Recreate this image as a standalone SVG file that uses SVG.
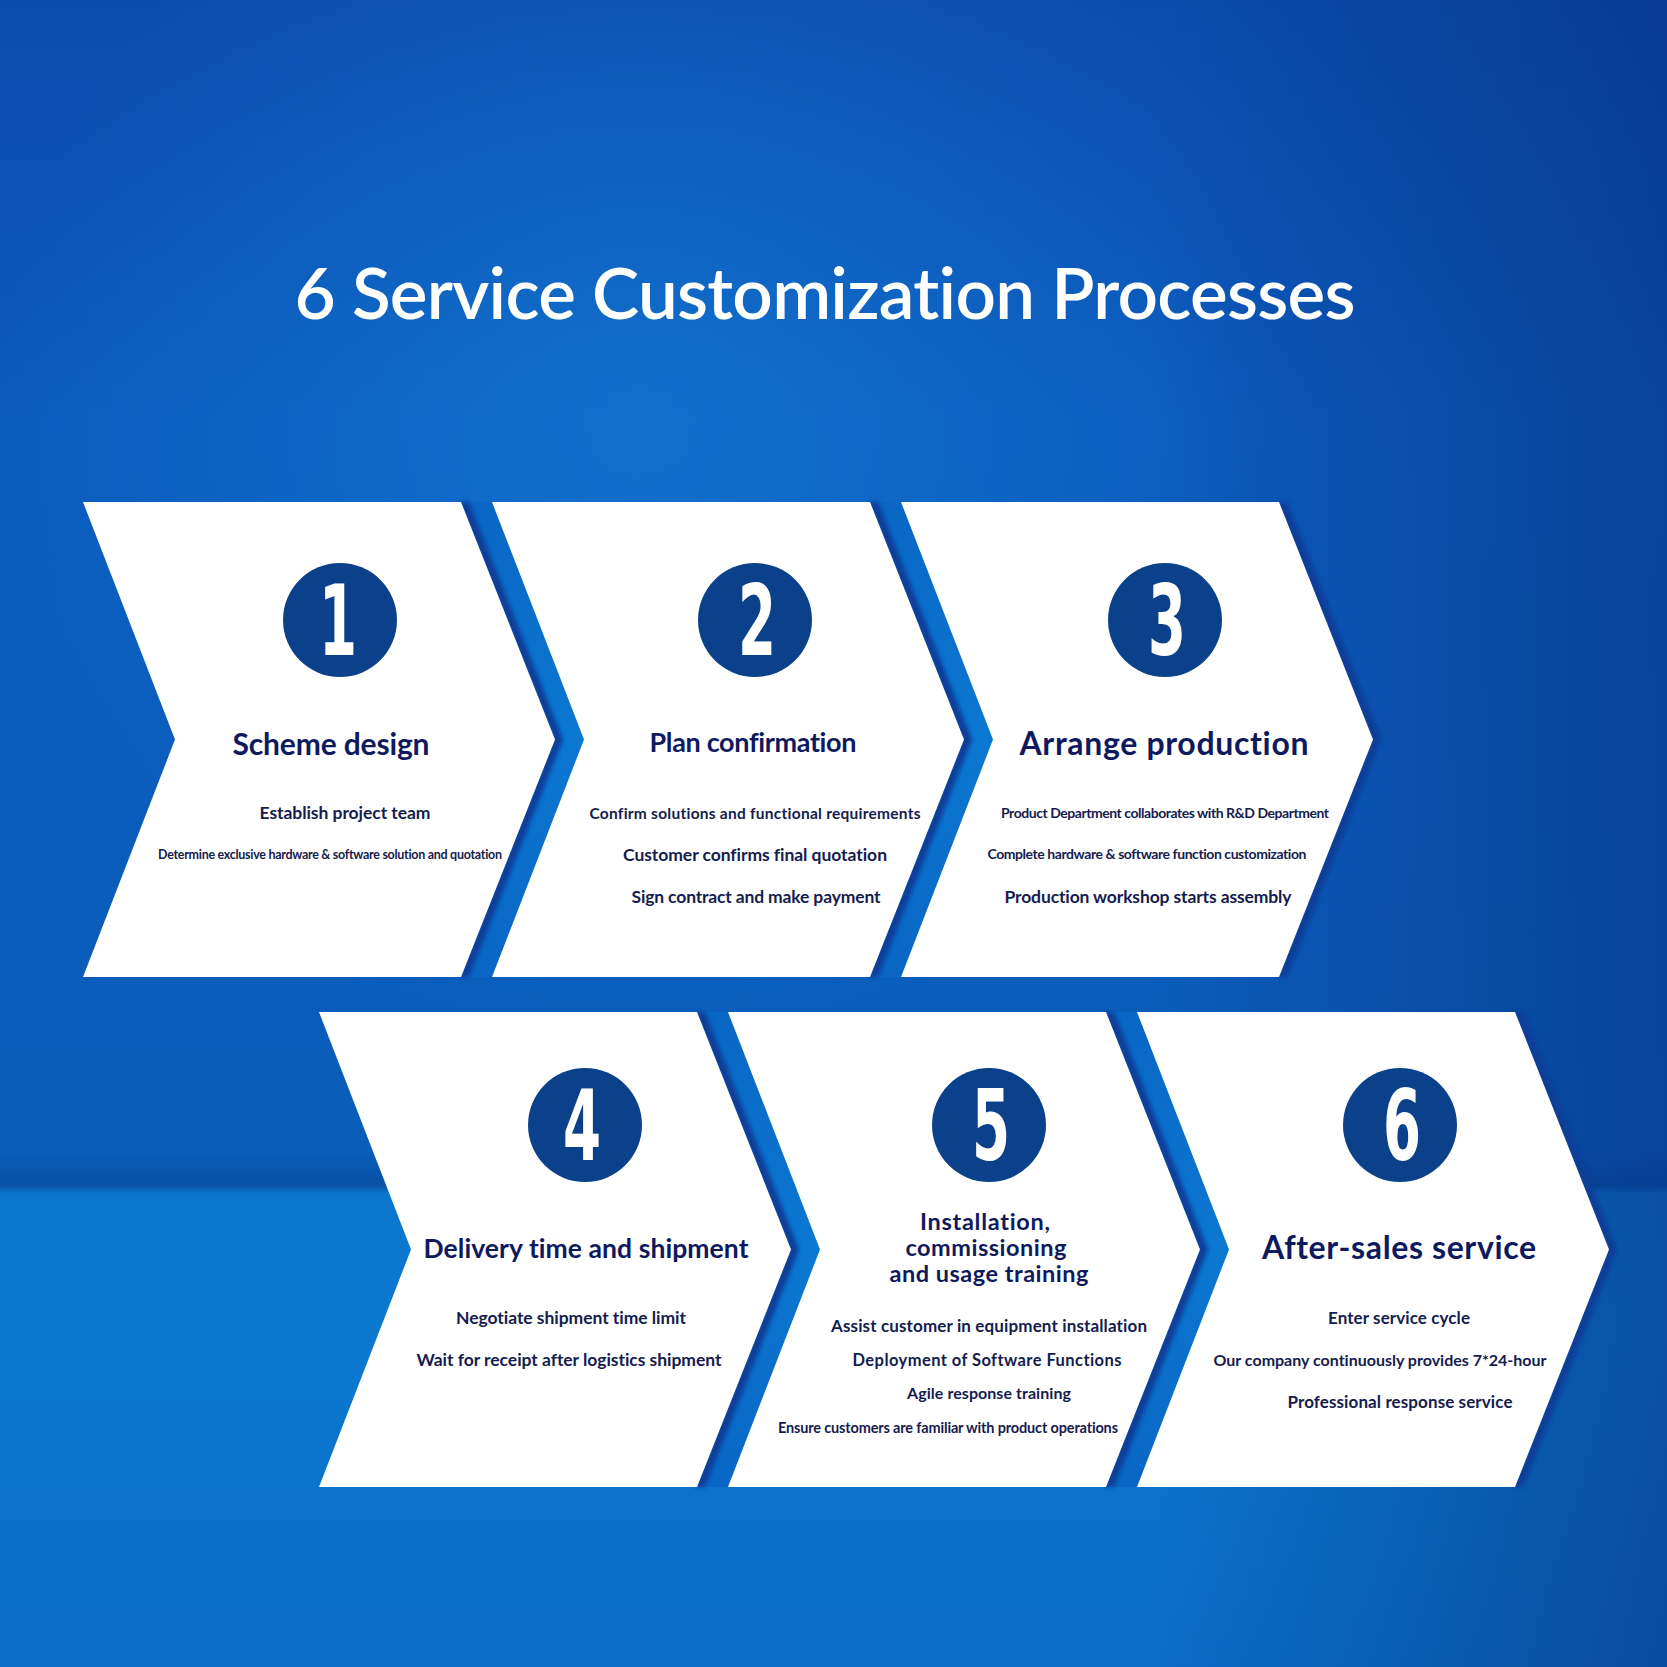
<svg xmlns="http://www.w3.org/2000/svg" width="1667" height="1667" viewBox="0 0 1667 1667">
<defs>
<linearGradient id="bg" x1="0" y1="0" x2="0" y2="1">
<stop offset="0" stop-color="#0a4cae"/>
<stop offset="0.25" stop-color="#0b5bbd"/>
<stop offset="0.5" stop-color="#0a5cbc"/>
<stop offset="0.69" stop-color="#0a5db9"/>
<stop offset="0.711" stop-color="#0852a8"/>
<stop offset="0.716" stop-color="#0b76cd"/>
<stop offset="0.8" stop-color="#0b78cf"/>
<stop offset="1" stop-color="#0a6dc7"/>
</linearGradient>
<radialGradient id="glow" cx="640" cy="420" r="640" gradientUnits="userSpaceOnUse">
<stop offset="0" stop-color="#1c8ee4" stop-opacity="0.4"/>
<stop offset="1" stop-color="#1c8ee4" stop-opacity="0"/>
</radialGradient>
<linearGradient id="rightdark" x1="1150" y1="0" x2="1667" y2="0" gradientUnits="userSpaceOnUse">
<stop offset="0" stop-color="#052a7a" stop-opacity="0"/>
<stop offset="1" stop-color="#052a7a" stop-opacity="0.5"/>
</linearGradient>
<linearGradient id="band" x1="0" y1="0" x2="0" y2="1">
<stop offset="0" stop-color="#0966c4"/>
<stop offset="0.5" stop-color="#0b78d2"/>
<stop offset="1" stop-color="#0966c4"/>
</linearGradient>
<filter id="blur" x="-20%" y="-5%" width="140%" height="110%">
<feGaussianBlur stdDeviation="2"/>
</filter>
<polygon id="chev" points="0,0 378,0 472,237.5 378,475 0,475 92,237.5"/>
<polygon id="gap" points="378,0 472,237.5 378,475 409,475 501,237.5 409,0"/>
<polygon id="shd" points="376,0 470,237.5 376,475 386,475 480,237.5 386,0"/>
</defs>
<style>
text{font-variant-ligatures:none;font-feature-settings:"liga" 0}
.chev{fill:#ffffff}
.band{fill:url(#band)}
.shd{fill:#0a3d98;filter:url(#blur)}
.circ{fill:#0b418b}
.num{font-family:"Liberation Sans Narrow","DejaVu Sans Condensed","Liberation Sans",sans-serif;font-weight:700;font-size:98px;fill:#ffffff;text-anchor:middle}
.h{font-family:Lato,"Liberation Sans",sans-serif;font-weight:700;fill:#0f1a5e;text-anchor:middle}
.t{font-family:Lato,"Liberation Sans",sans-serif;font-weight:700;fill:#151c4e;text-anchor:middle}
.title{font-family:Lato,"Liberation Sans",sans-serif;font-weight:600;font-size:71px;fill:#ffffff;text-anchor:middle}
</style>
<rect width="1667" height="1667" fill="url(#bg)"/>
<rect width="1667" height="1185" fill="url(#glow)"/>
<rect x="1150" y="0" width="517" height="1667" fill="url(#rightdark)"/>
<text class="title" x="825" y="319" textLength="1061">6 Service Customization Processes</text>
<g id="connectors">
<use href="#gap" class="band" x="83" y="502"/>
<use href="#gap" class="band" x="492" y="502"/>
<use href="#gap" class="band" x="319" y="1012"/>
<use href="#gap" class="band" x="728" y="1012"/>
<use href="#shd" class="shd" x="83" y="502"/>
<use href="#shd" class="shd" x="492" y="502"/>
<use href="#shd" class="shd" x="901" y="502"/>
<use href="#shd" class="shd" x="319" y="1012"/>
<use href="#shd" class="shd" x="728" y="1012"/>
<use href="#shd" class="shd" x="1137" y="1012"/>
</g>
<g id="step1">
<use href="#chev" class="chev" x="83" y="502"/>
<circle class="circ" cx="340" cy="620" r="57"/>
<text class="num" transform="translate(338,655) scale(0.62,1)">1</text>
<text class="h" x="331" y="755" font-size="30" textLength="197">Scheme design</text>
<text class="t" x="345" y="819" font-size="17.5" textLength="171">Establish project team</text>
<text class="t" x="330" y="859" font-size="12.5" textLength="344">Determine exclusive hardware &amp; software solution and quotation</text>
</g>
<g id="step2">
<use href="#chev" class="chev" x="492" y="502"/>
<circle class="circ" cx="755" cy="620" r="57"/>
<text class="num" transform="translate(757,655) scale(0.62,1)">2</text>
<text class="h" x="753" y="752" font-size="27" font-weight="600" textLength="207">Plan confirmation</text>
<text class="t" x="755" y="819" font-size="15.5" textLength="331">Confirm solutions and functional requirements</text>
<text class="t" x="755" y="861" font-size="17.5" textLength="264">Customer confirms final quotation</text>
<text class="t" x="756" y="903" font-size="17.5" textLength="249">Sign contract and make payment</text>
</g>
<g id="step3">
<use href="#chev" class="chev" x="901" y="502"/>
<circle class="circ" cx="1165" cy="620" r="57"/>
<text class="num" transform="translate(1167,655) scale(0.62,1)">3</text>
<text class="h" x="1164" y="755" font-size="32" textLength="289">Arrange production</text>
<text class="t" x="1165" y="818" font-size="14" font-weight="600" textLength="328">Product Department collaborates with R&amp;D Department</text>
<text class="t" x="1147" y="859" font-size="14" font-weight="600" textLength="319">Complete hardware &amp; software function customization</text>
<text class="t" x="1148" y="903" font-size="17.5" textLength="287">Production workshop starts assembly</text>
</g>
<g id="step4">
<use href="#chev" class="chev" x="319" y="1012"/>
<circle class="circ" cx="585" cy="1125" r="57"/>
<text class="num" transform="translate(582,1160) scale(0.62,1)">4</text>
<text class="h" x="586" y="1258" font-size="26.5" font-weight="600" textLength="325">Delivery time and shipment</text>
<text class="t" x="571" y="1324" font-size="17.5" textLength="230">Negotiate shipment time limit</text>
<text class="t" x="569" y="1366" font-size="17.5" textLength="305">Wait for receipt after logistics shipment</text>
</g>
<g id="step5">
<use href="#chev" class="chev" x="728" y="1012"/>
<circle class="circ" cx="989" cy="1125" r="57"/>
<text class="num" transform="translate(991,1160) scale(0.62,1)">5</text>
<text class="h" x="985" y="1230" font-size="23.5" font-weight="600" textLength="130">Installation,</text>
<text class="h" x="986" y="1256" font-size="23.5" font-weight="600" textLength="161">commissioning</text>
<text class="h" x="989" y="1282" font-size="23.5" font-weight="600" textLength="199">and usage training</text>
<text class="t" x="989" y="1332" font-size="17" textLength="316">Assist customer in equipment installation</text>
<text class="t" x="987" y="1366" font-size="16.5" textLength="269">Deployment of Software Functions</text>
<text class="t" x="989" y="1399" font-size="16" textLength="164">Agile response training</text>
<text class="t" x="948" y="1433" font-size="14.5" textLength="340">Ensure customers are familiar with product operations</text>
</g>
<g id="step6">
<use href="#chev" class="chev" x="1137" y="1012"/>
<circle class="circ" cx="1400" cy="1125" r="57"/>
<text class="num" transform="translate(1402,1160) scale(0.62,1)">6</text>
<text class="h" x="1399" y="1259" font-size="32" textLength="274">After-sales service</text>
<text class="t" x="1399" y="1324" font-size="17" textLength="142">Enter service cycle</text>
<text class="t" x="1380" y="1366" font-size="16" textLength="333">Our company continuously provides 7*24-hour</text>
<text class="t" x="1400" y="1408" font-size="17" textLength="225">Professional response service</text>
</g>
</svg>
